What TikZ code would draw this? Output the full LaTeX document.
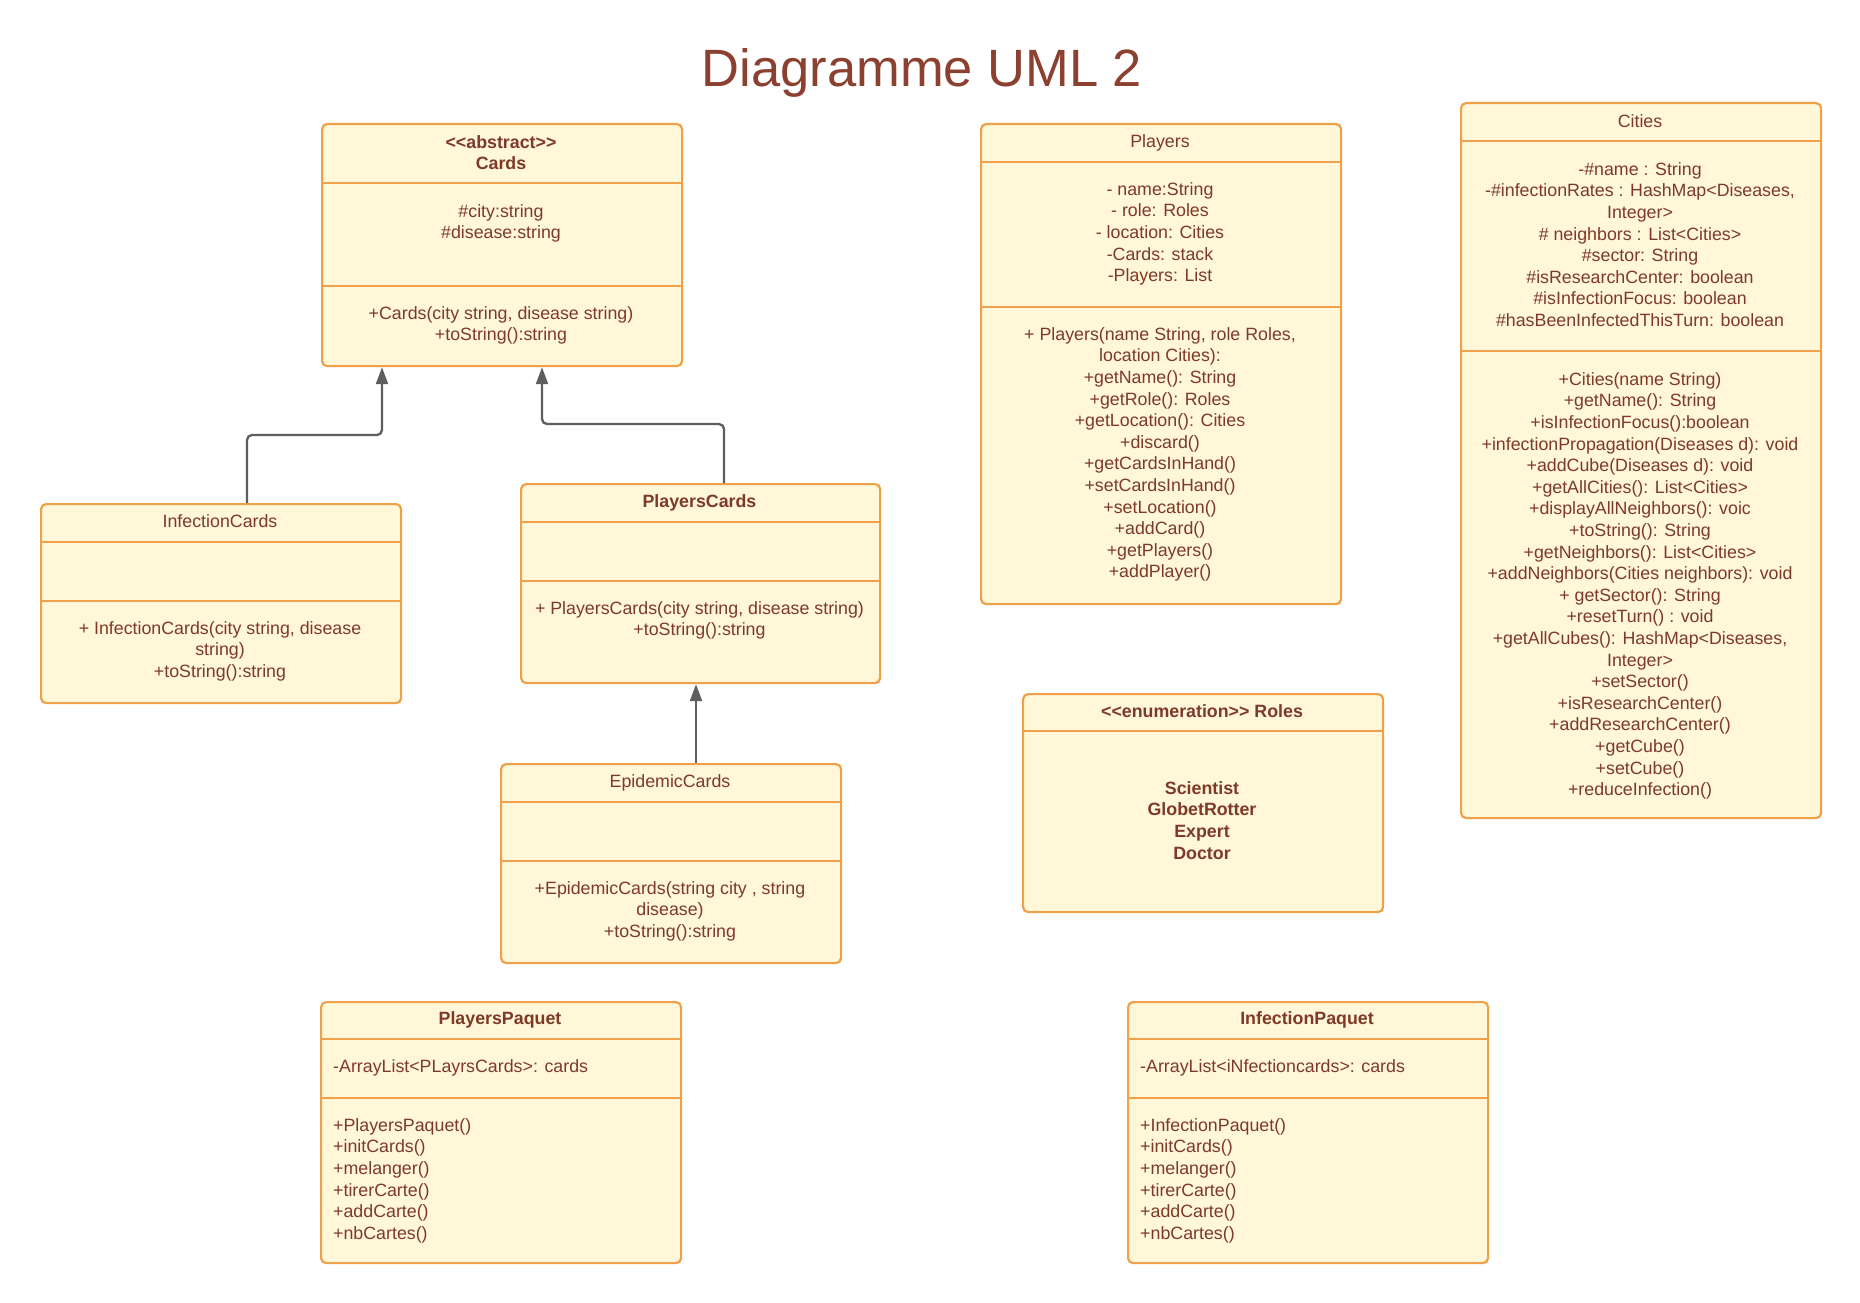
\documentclass[tikz,border=0pt]{standalone}
\usepackage{fontspec}
\setmainfont{Liberation Sans}
\usetikzlibrary{arrows.meta}
\definecolor{txtc}{HTML}{7E3A28}
\definecolor{titc}{HTML}{8B4030}
\definecolor{fillc}{HTML}{FFF7D8}
\definecolor{bordc}{HTML}{F0A048}
\definecolor{arrc}{HTML}{5E5E5E}
\tikzset{
  umlbox/.style={draw=bordc, fill=fillc, line width=2.2pt, rounded corners=5pt, anchor=north west, inner sep=0pt},
  divline/.style={draw=bordc, line width=2.2pt},
  lines/.style={anchor=north, inner sep=0pt, align=center, text=txtc, font=\fontsize{17.8}{21.6}\selectfont},
  llines/.style={anchor=north west, inner sep=0pt, align=left, text=txtc, font=\fontsize{17.8}{21.6}\selectfont},
  boldlines/.style={lines, font=\fontsize{17.8}{21.6}\selectfont\bfseries},
  inh/.style={draw=arrc, line width=2.3pt, rounded corners=5pt, -{Triangle[length=17pt,width=12pt]}}
}
\begin{document}
\begin{tikzpicture}[x=1pt,y=-1pt]
\useasboundingbox (0,0) rectangle (1860,1303);
\fill[white] (0,0) rectangle (1860,1303);

% title
\node[anchor=base, inner sep=0pt, text=titc, font=\fontsize{52.5}{60}\selectfont] (title) at (922,87) {Diagramme UML 2};

% Cards
\node[umlbox, minimum width=360pt, minimum height=242pt] (cards) at (321,123) {};
\draw[divline] (321,183) -- (681,183);
\draw[divline] (321,286) -- (681,286);
\node[boldlines] (cardsT) at (501,133) {\strut<{}<abstract>{}>\\Cards};
\node[lines] (cardsA) at (501,202) {\strut\#city:string\\\#disease:string};
\node[lines] (cardsO) at (501,304) {\strut+Cards(city string, disease string)\\+toString():string};

% Players
\node[umlbox, minimum width=360pt, minimum height=480pt] (players) at (980,123) {};
\draw[divline] (980,162) -- (1340,162);
\draw[divline] (980,307) -- (1340,307);
\node[lines] (playersT) at (1160,132) {\strut Players};
\node[lines] (playersA) at (1160,180) {\strut- name:String\\- role: Roles\\- location: Cities\\-Cards: stack\\-Players: List};
\node[lines] (playersO) at (1160,325) {\strut+ Players(name String, role Roles,\\location Cities):\\+getName(): String\\+getRole(): Roles\\+getLocation(): Cities\\+discard()\\+getCardsInHand()\\+setCardsInHand()\\+setLocation()\\+addCard()\\+getPlayers()\\+addPlayer()};

% Cities
\node[umlbox, minimum width=360pt, minimum height=715pt] (cities) at (1460,102) {};
\draw[divline] (1460,141) -- (1820,141);
\draw[divline] (1460,351) -- (1820,351);
\node[lines] (citiesT) at (1640,112) {\strut Cities};
\node[lines] (citiesA) at (1640,160) {\strut-\#name : String\\-\#infectionRates : HashMap<Diseases,\\Integer>\\\# neighbors : List<Cities>\\\#sector: String\\\#isResearchCenter: boolean\\\#isInfectionFocus: boolean\\\#hasBeenInfectedThisTurn: boolean};
\node[lines] (citiesO) at (1640,370) {\strut+Cities(name String)\\+getName(): String\\+isInfectionFocus():boolean\\+infectionPropagation(Diseases d): void\\+addCube(Diseases d): void\\+getAllCities(): List<Cities>\\+displayAllNeighbors(): voic\\+toString(): String\\+getNeighbors(): List<Cities>\\+addNeighbors(Cities neighbors): void\\+ getSector(): String\\+resetTurn() : void\\+getAllCubes(): HashMap<Diseases,\\Integer>\\+setSector()\\+isResearchCenter()\\+addResearchCenter()\\+getCube()\\+setCube()\\+reduceInfection()};

% InfectionCards
\node[umlbox, minimum width=360pt, minimum height=199pt] (ic) at (40,503) {};
\draw[divline] (40,542) -- (400,542);
\draw[divline] (40,601) -- (400,601);
\node[lines] (icT) at (220,512) {\strut InfectionCards};
\node[lines] (icO) at (220,619) {\strut+ InfectionCards(city string, disease\\string)\\+toString():string};

% PlayersCards
\node[umlbox, minimum width=359pt, minimum height=199pt] (pc) at (520,483) {};
\draw[divline] (520,522) -- (879,522);
\draw[divline] (520,581) -- (879,581);
\node[boldlines] (pcT) at (699.5,492) {\strut PlayersCards};
\node[lines] (pcO) at (699.5,599) {\strut+ PlayersCards(city string, disease string)\\+toString():string};

% EpidemicCards
\node[umlbox, minimum width=340pt, minimum height=199pt] (ec) at (500,763) {};
\draw[divline] (500,802) -- (840,802);
\draw[divline] (500,861) -- (840,861);
\node[lines] (ecT) at (670,772) {\strut EpidemicCards};
\node[lines] (ecO) at (670,879) {\strut+EpidemicCards(string city , string\\disease)\\+toString():string};

% Roles
\node[umlbox, minimum width=360pt, minimum height=218pt] (roles) at (1022,693) {};
\draw[divline] (1022,731) -- (1382,731);
\node[boldlines] (rolesT) at (1202,702) {\strut<{}<enumeration>{}> Roles};
\node[boldlines] (rolesV) at (1202,779) {\strut Scientist\\GlobetRotter\\Expert\\Doctor};

% PlayersPaquet
\node[umlbox, minimum width=360pt, minimum height=261pt] (pp) at (320,1001) {};
\draw[divline] (320,1039) -- (680,1039);
\draw[divline] (320,1098) -- (680,1098);
\node[boldlines] (ppT) at (500,1009) {\strut PlayersPaquet};
\node[llines] (ppA) at (333,1057) {\strut-ArrayList<PLayrsCards>: cards};
\node[llines] (ppO) at (333,1116) {\strut+PlayersPaquet()\\+initCards()\\+melanger()\\+tirerCarte()\\+addCarte()\\+nbCartes()};

% InfectionPaquet
\node[umlbox, minimum width=360pt, minimum height=261pt] (ip) at (1127,1001) {};
\draw[divline] (1127,1039) -- (1487,1039);
\draw[divline] (1127,1098) -- (1487,1098);
\node[boldlines] (ipT) at (1307,1009) {\strut InfectionPaquet};
\node[llines] (ipA) at (1140,1057) {\strut-ArrayList<iNfectioncards>: cards};
\node[llines] (ipO) at (1140,1116) {\strut+InfectionPaquet()\\+initCards()\\+melanger()\\+tirerCarte()\\+addCarte()\\+nbCartes()};

% inheritance connectors
\draw[inh] (ic.north -| 247,0) -- (247,435) -- (382,435) -- (cards.south -| 382,0);
\draw[inh] (pc.north -| 724,0) -- (724,424) -- (542,424) -- (cards.south -| 542,0);
\draw[inh] (ec.north -| 696,0) -- (pc.south -| 696,0);
\end{tikzpicture}
\end{document}
